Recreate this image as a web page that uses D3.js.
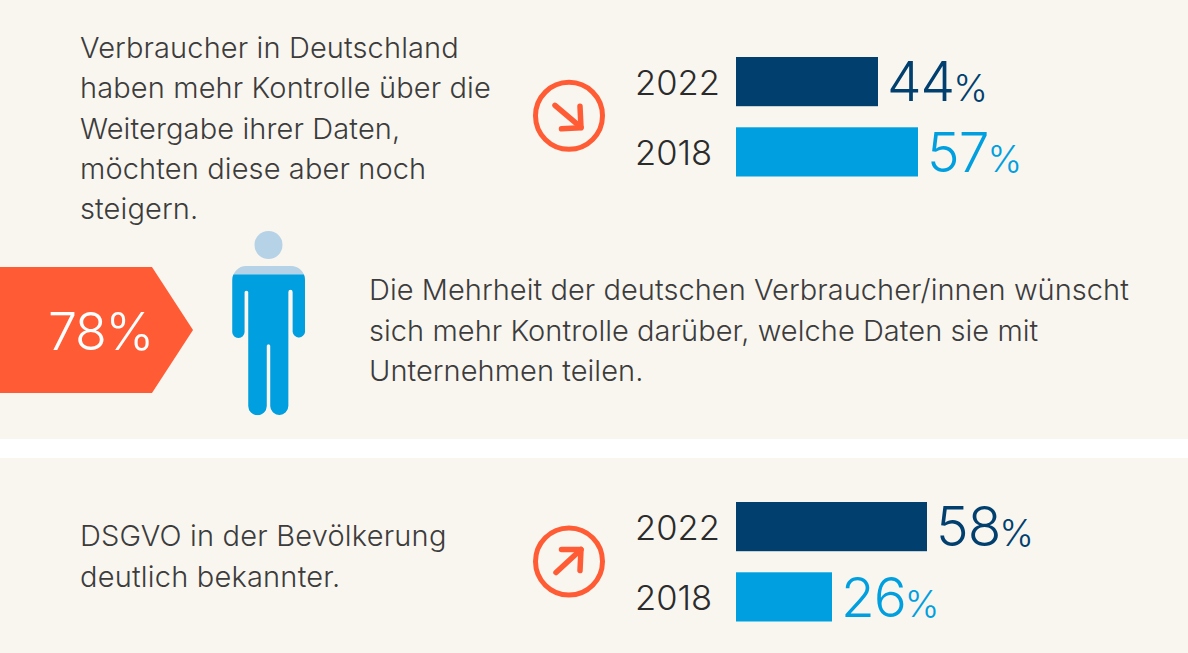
<!DOCTYPE html>
<html lang="de">
<head>
<meta charset="utf-8">
<script src="https://cdn.jsdelivr.net/npm/d3@7"></script>
<style>
  html, body { margin: 0; padding: 0; background: #fff; }
  svg { display: block; }
  text { font-family: Inter, Roboto, "Liberation Sans", sans-serif; font-weight: 300; }
</style>
</head>
<body>
<div id="myViz"></div>
<script>
// Daten
const years = ['2022', '2018'];
const controlValues = [44, 57];
const dsgvoValues = [58, 26];
const personShare = 78;

const controlText = ['Verbraucher in Deutschland', 'haben mehr Kontrolle über die', 'Weitergabe ihrer Daten,', 'möchten diese aber noch', 'steigern.'];
const majorityText = ['Die Mehrheit der deutschen Verbraucher/innen wünscht', 'sich mehr Kontrolle darüber, welche Daten sie mit', 'Unternehmen teilen.'];
const dsgvoText = ['DSGVO in der Bevölkerung', 'deutlich bekannter.'];

const width = 1188, height = 653;
const bg = '#f9f6f0', orange = '#ff5c35', dark = '#003f6e', blue = '#009fdf', pale = '#b6d2e6', ink = '#3c3c3c';
const yearColors = d3.scaleOrdinal().domain(years).range([dark, blue]);

// die Balken im Original sind nicht ganz proportional, daher stückweise
const xBar = d3.scaleLinear().domain([0, 26, 44, 57, 58]).range([0, 96, 142, 182, 191]);
const yPerson = d3.scaleLinear().domain([0, 100]).range([415, 235]);

const svg = d3.select('#myViz').append('svg').attr('width', width).attr('height', height);

svg.append('rect').attr('width', width).attr('height', 439).attr('fill', bg);
svg.append('rect').attr('y', 458).attr('width', width).attr('height', height - 458).attr('fill', bg);

// Textblöcke
const drawLines = (lines, x, y0, step, spacing) => {
  svg.append('g').selectAll('text').data(lines).enter().append('text')
    .attr('x', x)
    .attr('y', (d, i) => y0 + i * step)
    .attr('font-size', 29)
    .attr('letter-spacing', spacing)
    .attr('fill', ink)
    .text(d => d);
};
drawLines(controlText, 80, 58, 40.3, 0.12);
drawLines(majorityText, 369, 300, 40.5, 0.05);
drawLines(dsgvoText, 80, 546, 40.5, 0.2);

// Balkengruppen
const drawBars = (values, top) => {
  const yBand = d3.scaleBand().domain(years).range([top, top + 119.5]).paddingInner(0.3);
  const g = svg.append('g');
  years.forEach((year, i) => {
    const y = yBand(year), h = yBand.bandwidth();
    g.append('text').attr('x', 635).attr('y', y + h / 2 + 13)
      .attr('font-size', 34.5).attr('fill', '#2b2b2b').text(year);
    g.append('rect').attr('x', 736).attr('y', y).attr('width', xBar(values[i])).attr('height', h)
      .attr('fill', yearColors(year));
    const label = g.append('text').attr('x', 736 + xBar(values[i]) + 9).attr('y', y + h - 5)
      .attr('fill', yearColors(year));
    label.append('tspan').attr('font-size', 55).attr('letter-spacing', -1).text(values[i]);
    label.append('tspan').attr('font-size', 37).attr('dx', -1).text('%');
  });
};
drawBars(controlValues, 57);
drawBars(dsgvoValues, 502);

// Pfeile im Kreis
const drawArrow = (cy, paths) => {
  const g = svg.append('g').attr('transform', `translate(569,${cy})`)
    .attr('fill', 'none').attr('stroke', orange).attr('stroke-linecap', 'round').attr('stroke-linejoin', 'round');
  g.append('circle').attr('r', 33.5).attr('stroke-width', 5);
  paths.forEach(p => g.append('path').attr('d', p).attr('stroke-width', 5.5));
};
drawArrow(115.8, ['M-14,-10.5L12,11.5', 'M11,-9.5L12,12L-7.5,13']);
drawArrow(561.5, ['M-13,11L12,-12', 'M-7.5,-12L12,-12L11,9']);

// Pfeil-Fläche mit 78 %
svg.append('path').attr('d', 'M0,267H152L193,330L152,393H0Z').attr('fill', orange);
svg.append('text').attr('x', 48).attr('y', 349.5).attr('font-size', 52).attr('letter-spacing', -1.3).attr('fill', '#fff').text(personShare + '%');

// Person, unten bis zum Anteil gefüllt
const bodyPath = 'M232.3,280A14,14 0 0 1 246,266H291A14,14 0 0 1 305,280V332A6.2,6.2 0 0 1 292.7,332V292'
  + 'A2.2,2.2 0 0 0 288.3,292V406A9,9 0 0 1 270.3,406V346A1.8,1.8 0 0 0 266.7,346V406A9,9 0 0 1 248.3,406V292'
  + 'A2.1,2.1 0 0 0 244.5,292V332A6.1,6.1 0 0 1 232.3,332Z';
svg.append('clipPath').attr('id', 'personFill').append('rect')
  .attr('x', 220).attr('y', yPerson(personShare)).attr('width', 100).attr('height', yPerson(0) - yPerson(personShare));
svg.append('circle').attr('cx', 268.5).attr('cy', 245).attr('r', 14).attr('fill', pale);
svg.append('path').attr('d', bodyPath).attr('fill', pale);
svg.append('path').attr('d', bodyPath).attr('fill', blue).attr('clip-path', 'url(#personFill)');
</script>
</body>
</html>
